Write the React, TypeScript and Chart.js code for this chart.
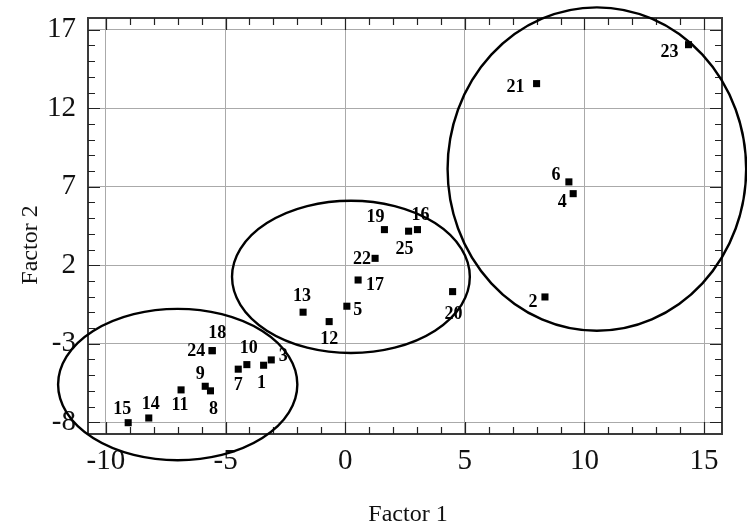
import React, { useEffect, useRef } from "react";
import { Chart, registerables } from "chart.js";

Chart.register(...registerables);

// ---- data ----
const POINT_IDS = ["1","2","3","4","5","6","7","8","9","10","11","12","13","14","15","16","17","18","19","20","21","22","23","24","25"];
const FACTOR_1 = [-3.41, 8.35, -3.09, 9.53, 0.07, 9.35, -4.47, -5.63, -5.85, -4.11, -6.86, -0.67, -1.76, -8.21, -9.07, 3.02, 0.54, -5.56, 1.64, 4.49, 8.0, 1.25, 14.35, -5.56, 2.65];
const FACTOR_2 = [-4.37, -0.02, -4.03, 6.56, -0.61, 7.31, -4.62, -6.0, -5.71, -4.33, -5.94, -1.59, -0.99, -7.73, -8.03, 4.27, 1.06, -3.44, 4.27, 0.32, 13.57, 2.44, 16.05, -3.44, 4.17];

// cluster ellipses (data units)
const ELLIPSE_CX = [-7.0, 0.24, 10.52];
const ELLIPSE_CY = [-5.6, 1.26, 8.13];
const ELLIPSE_RX = [5.0, 4.97, 6.24];
const ELLIPSE_RY = [4.82, 4.85, 10.3];

const X_TICKS = [-10, -5, 0, 5, 10, 15];
const Y_TICKS = [-8, -3, 2, 7, 12, 17];
const X_RANGE = [-10.75, 15.75];
const Y_RANGE = [-8.75, 17.75];

const X_TITLE = "Factor 1";
const Y_TITLE = "Factor 2";

// label placement offsets (px) relative to each marker
const LABEL_DX = [-2, -12, 12, -11, 11, -13, 0, 3, -5, 2, -1, 0, -1, 2, -6, 3, 17, 5, -9, 1, -21, -13, -19, -16, -4];
const LABEL_DY = [17, 4, -5, 7, 3, -8, 15, 17, -13, -18, 14, 16, -17, -15, -15, -16, 4, -19, -14, 21, 2, 0, 6, -1, 17];

const SERIF = "'Liberation Serif', 'Times New Roman', serif";

const decorPlugin = {
  id: "decor",
  beforeDatasetsDraw(chart: any) {
    const { ctx, chartArea, scales } = chart;
    const { left, right, top, bottom } = chartArea;
    const x = scales.x;
    const y = scales.y;
    ctx.save();
    // frame
    ctx.strokeStyle = "#3a3a3a";
    ctx.lineWidth = 2;
    ctx.strokeRect(left, top, right - left, bottom - top);
    // inward ticks on all sides
    ctx.lineWidth = 1.2;
    ctx.strokeStyle = "#222";
    for (let v = Math.ceil(X_RANGE[0]); v <= Math.floor(X_RANGE[1]); v++) {
      const len = X_TICKS.includes(v) ? 12 : 7;
      const px = Math.round(x.getPixelForValue(v)) + 0.5;
      ctx.beginPath();
      ctx.moveTo(px, bottom);
      ctx.lineTo(px, bottom - len);
      ctx.moveTo(px, top);
      ctx.lineTo(px, top + len);
      ctx.stroke();
    }
    for (let v = Math.ceil(Y_RANGE[0]); v <= Math.floor(Y_RANGE[1]); v++) {
      const len = Y_TICKS.includes(v) ? 12 : 7;
      const py = Math.round(y.getPixelForValue(v)) + 0.5;
      ctx.beginPath();
      ctx.moveTo(left, py);
      ctx.lineTo(left + len, py);
      ctx.moveTo(right, py);
      ctx.lineTo(right - len, py);
      ctx.stroke();
    }
    // ellipses
    ctx.strokeStyle = "#000";
    ctx.lineWidth = 2.4;
    for (let i = 0; i < ELLIPSE_CX.length; i++) {
      const cx = x.getPixelForValue(ELLIPSE_CX[i]);
      const cy = y.getPixelForValue(ELLIPSE_CY[i]);
      const rx = Math.abs(x.getPixelForValue(ELLIPSE_CX[i] + ELLIPSE_RX[i]) - cx);
      const ry = Math.abs(y.getPixelForValue(ELLIPSE_CY[i] + ELLIPSE_RY[i]) - cy);
      ctx.beginPath();
      ctx.ellipse(cx, cy, rx, ry, 0, 0, Math.PI * 2);
      ctx.stroke();
    }
    ctx.restore();
  },
  afterDatasetsDraw(chart: any) {
    const { ctx, scales } = chart;
    const x = scales.x;
    const y = scales.y;
    ctx.save();
    ctx.fillStyle = "#000";
    ctx.font = `bold 18px ${SERIF}`;
    ctx.textAlign = "center";
    ctx.textBaseline = "alphabetic";
    for (let i = 0; i < POINT_IDS.length; i++) {
      const px = x.getPixelForValue(FACTOR_1[i]) + LABEL_DX[i];
      const py = y.getPixelForValue(FACTOR_2[i]) + LABEL_DY[i] + 6;
      ctx.fillText(POINT_IDS[i], px, py);
    }
    // axis titles
    ctx.font = `24px ${SERIF}`;
    ctx.fillStyle = "#111";
    const { left, right } = chart.chartArea;
    ctx.fillText(X_TITLE, (left + right) / 2 + 3, 521);
    ctx.save();
    ctx.translate(37, 245);
    ctx.rotate(-Math.PI / 2);
    ctx.fillText(Y_TITLE, 0, 0);
    ctx.restore();
    ctx.restore();
  },
};

export default function App() {
  const canvasRef = useRef<HTMLCanvasElement | null>(null);

  useEffect(() => {
    if (!canvasRef.current) return;
    const points = FACTOR_1.map((v, i) => ({ x: v, y: FACTOR_2[i] }));
    const chart = new Chart(canvasRef.current, {
      type: "scatter",
      data: {
        datasets: [
          {
            label: "Samples",
            data: points,
            pointStyle: "rect",
            pointRadius: 5,
            pointHoverRadius: 5,
            pointBorderWidth: 0,
            backgroundColor: "#000",
            borderColor: "#000",
          },
        ],
      },
      options: {
        animation: false,
        responsive: true,
        maintainAspectRatio: false,
        layout: { padding: { top: 18, right: 25, left: 0, bottom: 0 } },
        plugins: {
          legend: { display: false },
          tooltip: { enabled: false },
        },
        scales: {
          x: {
            type: "linear",
            min: X_RANGE[0],
            max: X_RANGE[1],
            afterBuildTicks: (s: any) => {
              s.ticks = X_TICKS.map((v) => ({ value: v }));
            },
            afterFit: (s: any) => {
              s.height = 93;
              s.paddingLeft = 0;
              s.paddingRight = 0;
            },
            grid: { color: "#aaaaaa", lineWidth: 1, drawTicks: false },
            border: { display: false },
            ticks: {
              font: { family: SERIF, size: 29 },
              color: "#111",
              padding: 10,
              maxRotation: 0,
            },
          },
          y: {
            type: "linear",
            min: Y_RANGE[0],
            max: Y_RANGE[1],
            afterBuildTicks: (s: any) => {
              s.ticks = Y_TICKS.map((v) => ({ value: v }));
            },
            afterFit: (s: any) => {
              s.width = 88;
              s.paddingTop = 0;
              s.paddingBottom = 0;
            },
            grid: { color: "#aaaaaa", lineWidth: 1, drawTicks: false },
            border: { display: false },
            ticks: {
              font: { family: SERIF, size: 29 },
              color: "#111",
              padding: 12,
            },
          },
        },
      },
      plugins: [decorPlugin],
    });
    return () => chart.destroy();
  }, []);

  return (
    <div style={{ position: "absolute", left: 0, top: 0, width: 747, height: 527, background: "#fff" }}>
      <canvas ref={canvasRef} />
    </div>
  );
}
